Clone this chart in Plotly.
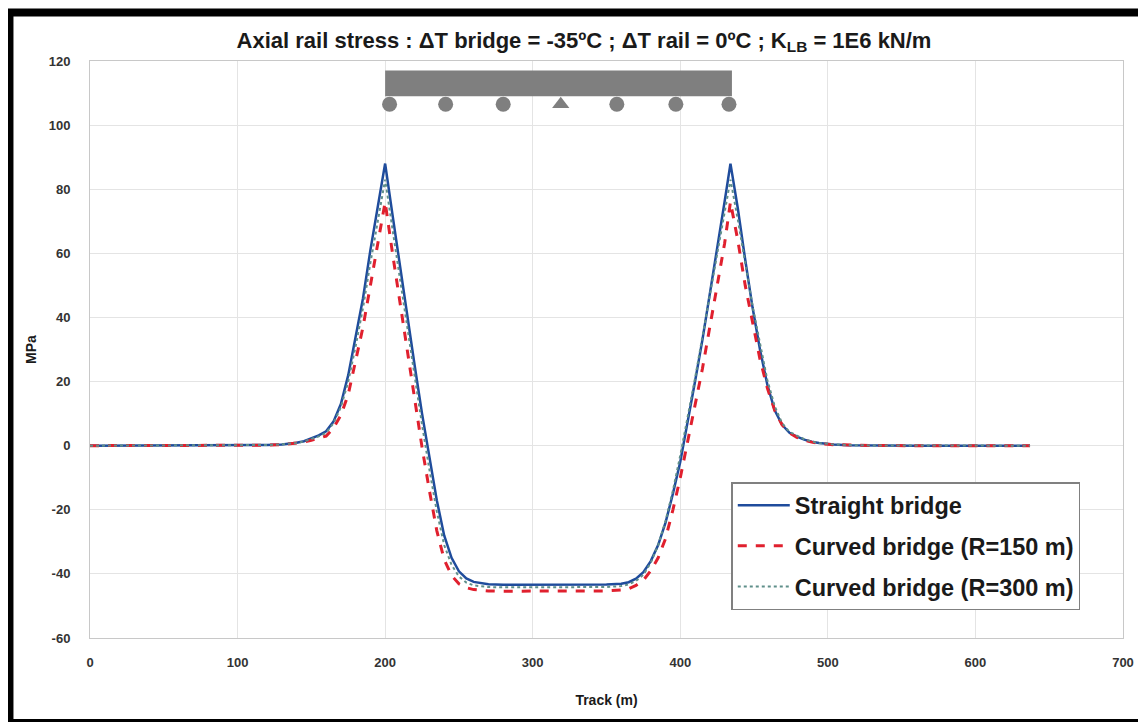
import plotly.graph_objects as go

# ---------------- data ----------------
track_m = [0, 50, 100, 120, 130, 140, 145, 150, 155, 160, 165, 170, 175, 180, 185, 190, 195,
           200, 205, 210, 215, 220, 225, 230, 235, 240, 245, 250, 255, 260, 270, 280, 300,
           320, 340, 350, 360, 365, 370, 375, 380, 385, 390, 395, 400, 405, 410, 415, 420,
           425, 430, 434, 439, 444, 449, 454, 459, 464, 469, 474, 479, 484, 489, 494, 504,
           514, 534, 560, 600, 637]

straight = [0, 0, 0.05, 0.2, 0.4, 0.9, 1.4, 2.2, 3.2, 4.5, 7.5, 13, 22, 34, 46, 61, 75,
            88, 72, 56, 40, 25, 10, -4, -17, -28, -35, -39.2, -41.4, -42.5, -43.2, -43.4, -43.4,
            -43.4, -43.4, -43.3, -43.1, -42.6, -41.5, -39.5, -36, -31, -24, -15, -5, 7, 20, 33, 47,
            61, 76, 88, 74, 58, 43, 30, 19, 11, 6.5, 4, 2.8, 1.9, 1.2, 0.8, 0.35,
            0.15, 0.05, 0, 0, 0]

curved_150 = [0, 0, 0.04, 0.15, 0.3, 0.7, 1.1, 1.7, 2.3, 3, 5.5, 9.5, 16, 26, 37, 50, 63,
              76, 60, 44.5, 29, 14, -0.5, -14, -26.5, -35.5, -40.5, -43.1, -44.3, -44.9, -45.3, -45.4, -45.4,
              -45.4, -45.4, -45.3, -45, -44.6, -43.6, -42, -39, -35, -29, -20, -10, 1, 12, 24, 37,
              50, 63, 76, 64, 50, 38, 27, 18, 11, 6.5, 4, 2.6, 1.7, 1.1, 0.7, 0.3,
              0.15, 0.04, 0, 0, 0]

curved_300 = [0, 0, 0.05, 0.2, 0.4, 0.8, 1.3, 2, 2.9, 4, 7, 12, 20, 31, 43, 57, 70,
              83, 67.5, 52, 36.5, 21.5, 6.5, -7.5, -20.5, -31, -37.2, -40.8, -42.7, -43.6, -44.1, -44.2, -44.2,
              -44.2, -44.2, -44.1, -43.8, -43.3, -42.2, -40.3, -36.5, -31, -23.5, -14, -3, 8.5, 21, 34, 47,
              60, 72, 83, 70.5, 57.5, 43.5, 32, 20.5, 12.3, 7, 4.3, 3.1, 2, 1.3, 0.8, 0.4,
              0.2, 0.05, 0, 0, 0]

series_names = ["Straight bridge", "Curved bridge (R=150 m)", "Curved bridge (R=300 m)"]

# bridge sketch (deck and supports)
deck_x = [200, 435]
deck_y = [109, 117]
support_x = [203, 241, 280, 319, 357, 397, 433]
support_y = [106.5, 106.5, 106.5, 106.5, 106.5, 106.5, 106.5]
support_type = ["circle", "circle", "circle", "triangle-up", "circle", "circle", "circle"]

x_ticks = [0, 100, 200, 300, 400, 500, 600, 700]
x_tick_labels = ["0", "100", "200", "300", "400", "500", "600", "700"]
y_ticks = [-60, -40, -20, 0, 20, 40, 60, 80, 100, 120]
y_tick_labels = ["-60", "-40", "-20", "0", "20", "40", "60", "80", "100", "120"]

# ---------------- figure ----------------
SANS = "Liberation Sans, Arial, sans-serif"

# page has an 8px body margin: figure is placed at (8, 8)
FW, FH = 1138, 714
OFF = 8
L, R, T, B = 90 - OFF, 1129 - OFF, 61 - OFF, 638 - OFF
W, H = R - L, B - T

fig = go.Figure()

fig.add_trace(go.Scatter(x=track_m, y=straight, mode="lines", name=series_names[0],
                         line=dict(color="#1f4c9c", width=2.5), legendgroup="a"))
fig.add_trace(go.Scatter(x=track_m, y=curved_150, mode="lines", name=series_names[1],
                         line=dict(color="#e0202e", width=3, dash="dash"), legendgroup="b"))
fig.add_trace(go.Scatter(x=track_m, y=curved_300, mode="lines", name=series_names[2],
                         line=dict(color="#5f8f8a", width=2, dash="dot"), legendgroup="c"))

fig.add_trace(go.Scatter(x=support_x, y=support_y, mode="markers", showlegend=False,
                         marker=dict(symbol=support_type, size=15, color="#7f7f7f",
                                     line=dict(width=0)), hoverinfo="skip"))

fig.add_shape(type="rect", xref="x", yref="y", x0=deck_x[0], x1=deck_x[1],
              y0=deck_y[0], y1=deck_y[1], fillcolor="#7f7f7f", line=dict(width=0), layer="above")

# outer black frame
fig.add_shape(type="rect", xref="paper", yref="paper",
              x0=(1 - L) / W, x1=(1150 - L) / W, y0=(B - 715) / H, y1=1 + (T - 4.5) / H,
              line=dict(color="black", width=8), fillcolor="rgba(0,0,0,0)", layer="below")

fig.update_layout(
    width=FW, height=FH,
    margin=dict(l=L, r=FW - R, t=T, b=FH - B),
    paper_bgcolor="white", plot_bgcolor="white",
    title=dict(text="Axial rail stress : ΔT bridge = -35ºC ; ΔT rail = 0ºC ; K<sub>LB</sub> = 1E6 kN/m",
               x=(584 - OFF) / FW, xanchor="center", y=1 - (40 - OFF) / FH, yanchor="middle",
               font=dict(family=SANS, size=22, color="#1a1a1a", weight="bold")),
    legend=dict(x=(735 - OFF - L) / W, y=(B - (482 - OFF)) / H, xanchor="left", yanchor="top",
                bgcolor="white", bordercolor="#808080", borderwidth=1.5,
                font=dict(family=SANS, size=23.5, color="#1a1a1a", weight="bold"),
                tracegroupgap=7, itemwidth=52),
    showlegend=True,
)

fig.update_xaxes(range=[0, 700], tickvals=x_ticks, ticktext=x_tick_labels,
                 showgrid=True, gridcolor="#e4e4e4",
                 gridwidth=1, zeroline=False, showline=True, linecolor="#c8c8c8", mirror=True,
                 ticks="", ticklabelstandoff=12,
                 tickfont=dict(family=SANS, size=13, color="#333333", weight="bold"),
                 title=dict(text="Track (m)", standoff=26,
                            font=dict(family=SANS, size=14, color="#1a1a1a", weight="bold")))
fig.update_yaxes(range=[-60, 120], tickvals=y_ticks, ticktext=y_tick_labels,
                 showgrid=True, gridcolor="#e4e4e4",
                 gridwidth=1, zeroline=False, showline=True, linecolor="#c8c8c8", mirror=True,
                 ticks="", ticklabelstandoff=16,
                 tickfont=dict(family=SANS, size=13, color="#333333", weight="bold"),
                 title=dict(text="MPa", standoff=8,
                            font=dict(family=SANS, size=14, color="#1a1a1a", weight="bold")))

fig.write_html("out.html")
